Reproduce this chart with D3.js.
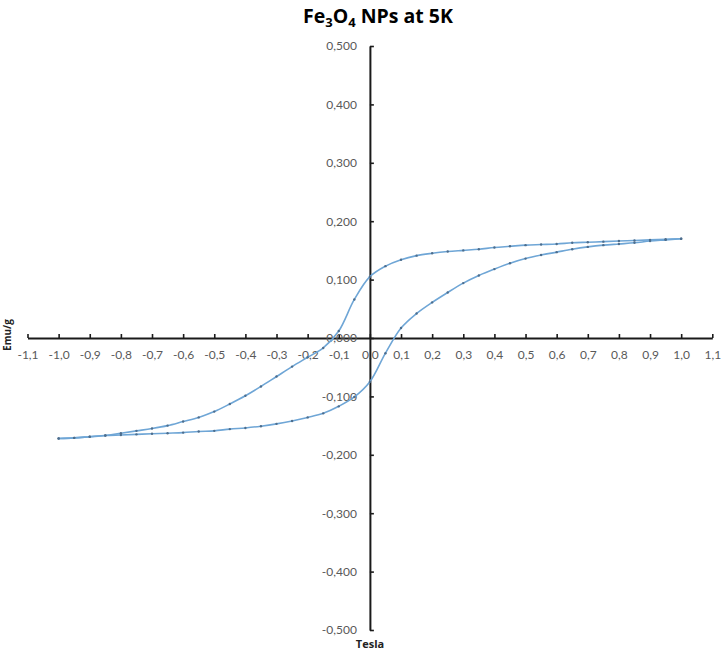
<!DOCTYPE html>
<html>
<head>
<meta charset="utf-8">
<script src="https://cdn.jsdelivr.net/npm/d3@7/dist/d3.min.js"></script>
<style>
  html, body { margin: 0; padding: 0; background: #ffffff; }
  svg { display: block; }
</style>
</head>
<body>
<svg id="chart" width="723" height="654"></svg>
<script>
// Applied field (T), one point every 0.05 T
const fieldT = [-1.00, -0.95, -0.90, -0.85, -0.80, -0.75, -0.70, -0.65, -0.60, -0.55,
                -0.50, -0.45, -0.40, -0.35, -0.30, -0.25, -0.20, -0.15, -0.10, -0.05,
                 0.00,  0.05,  0.10,  0.15,  0.20,  0.25,  0.30,  0.35,  0.40,  0.45,
                 0.50,  0.55,  0.60,  0.65,  0.70,  0.75,  0.80,  0.85,  0.90,  0.95, 1.00];

// Magnetisation (emu/g) on the sweep from +1 T down to -1 T (listed by increasing field)
const sweepDown = [-0.172, -0.171, -0.169, -0.167, -0.163, -0.159, -0.155, -0.150, -0.143, -0.136,
                   -0.126, -0.113, -0.099, -0.083, -0.066, -0.049, -0.033, -0.017,  0.012,  0.066,
                    0.105,  0.123,  0.134,  0.141,  0.145,  0.148,  0.150,  0.152,  0.155,  0.157,
                    0.159,  0.160,  0.161,  0.163,  0.164,  0.165,  0.166,  0.167,  0.168,  0.169, 0.170];

// Magnetisation (emu/g) on the sweep from -1 T back up to +1 T
const sweepUp = [-0.172, -0.171, -0.169, -0.167, -0.166, -0.165, -0.164, -0.163, -0.162, -0.160,
                 -0.159, -0.156, -0.154, -0.151, -0.147, -0.142, -0.136, -0.129, -0.117, -0.101,
                 -0.075, -0.026,  0.017,  0.042,  0.061,  0.078,  0.094,  0.107,  0.118,  0.128,
                  0.136,  0.142,  0.147,  0.152,  0.156,  0.159,  0.161,  0.163,  0.166,  0.168, 0.170];

const xTickValues = [-1.1, -1.0, -0.9, -0.8, -0.7, -0.6, -0.5, -0.4, -0.3, -0.2, -0.1,
                      0.0, 0.1, 0.2, 0.3, 0.4, 0.5, 0.6, 0.7, 0.8, 0.9, 1.0, 1.1];
const yTickValues = [-0.5, -0.4, -0.3, -0.2, -0.1, 0.0, 0.1, 0.2, 0.3, 0.4, 0.5];

const locale = d3.formatLocale({ decimal: ",", thousands: ".", grouping: [3], currency: ["", " €"], minus: "-" });
const fmtX = locale.format(".1f");
const fmtY = locale.format(".3f");

const svg = d3.select("#chart");

const x = d3.scaleLinear().domain([-1.1, 1.1]).range([27.5, 712.3]);
const y = d3.scaleLinear().domain([-0.5, 0.5]).range([630, 46]);

const labelFont = "Lato, 'Open Sans', sans-serif";

// Title with subscripts
const title = svg.append("text")
  .attr("x", 378).attr("y", 23)
  .attr("text-anchor", "middle")
  .attr("font-family", "'Open Sans', sans-serif")
  .attr("font-weight", "bold")
  .attr("font-size", 19.5)
  .attr("fill", "#000");
title.append("tspan").text("Fe");
title.append("tspan").attr("font-size", 13).attr("dy", 4).text("3");
title.append("tspan").attr("dy", -4).text("O");
title.append("tspan").attr("font-size", 13).attr("dy", 4).text("4");
title.append("tspan").attr("dy", -4).text(" NPs at 5K");

// X axis crossing at M = 0
const xAxis = d3.axisBottom(x)
  .tickValues(xTickValues)
  .tickFormat(fmtX)
  .tickSizeInner(-4)
  .tickSizeOuter(0)
  .tickPadding(12);

const gx = svg.append("g")
  .attr("transform", `translate(0,${y(0)})`)
  .call(xAxis);

// Y axis crossing at field = 0
const yAxis = d3.axisLeft(y)
  .tickValues(yTickValues)
  .tickFormat(fmtY)
  .tickSizeInner(-4)
  .tickSizeOuter(0)
  .tickPadding(13);

const gy = svg.append("g")
  .attr("transform", `translate(${x(0)},0)`)
  .call(yAxis);

[gx, gy].forEach(g => {
  g.select(".domain").attr("stroke", "#1a1a1a").attr("stroke-width", 2);
  g.selectAll(".tick line").attr("stroke", "#1a1a1a").attr("stroke-width", 1.6);
  g.selectAll(".tick text")
    .attr("fill", "#595959")
    .attr("font-family", labelFont)
    .attr("font-size", 12);
});

// Axis titles
svg.append("text")
  .attr("transform", "translate(11,335) rotate(-90)")
  .attr("text-anchor", "middle")
  .attr("font-family", "'Open Sans', sans-serif")
  .attr("font-weight", "bold")
  .attr("font-size", 10)
  .attr("fill", "#222")
  .text("Emu/g");

svg.append("text")
  .attr("x", 370).attr("y", 648)
  .attr("text-anchor", "middle")
  .attr("font-family", "'Open Sans', sans-serif")
  .attr("font-weight", "bold")
  .attr("font-size", 11)
  .attr("fill", "#222")
  .text("Tesla");

// Hysteresis loop: each sweep is a smoothed line through its measured points
const downPts = fieldT.map((t, i) => [t, sweepDown[i]]);
const upPts = fieldT.map((t, i) => [t, sweepUp[i]]);
const series = [downPts, upPts];

const line = d3.line()
  .x(d => x(d[0]))
  .y(d => y(d[1]))
  .curve(d3.curveCatmullRom.alpha(0.5));

svg.append("g")
  .selectAll("path")
  .data(series)
  .join("path")
  .attr("d", line)
  .attr("fill", "none")
  .attr("stroke", "#6fa6d6")
  .attr("stroke-width", 1.6);

svg.append("g")
  .selectAll("circle")
  .data(series.flat())
  .join("circle")
  .attr("cx", d => x(d[0]))
  .attr("cy", d => y(d[1]))
  .attr("r", 1.2)
  .attr("fill", "#4d6e8e");
</script>
</body>
</html>
